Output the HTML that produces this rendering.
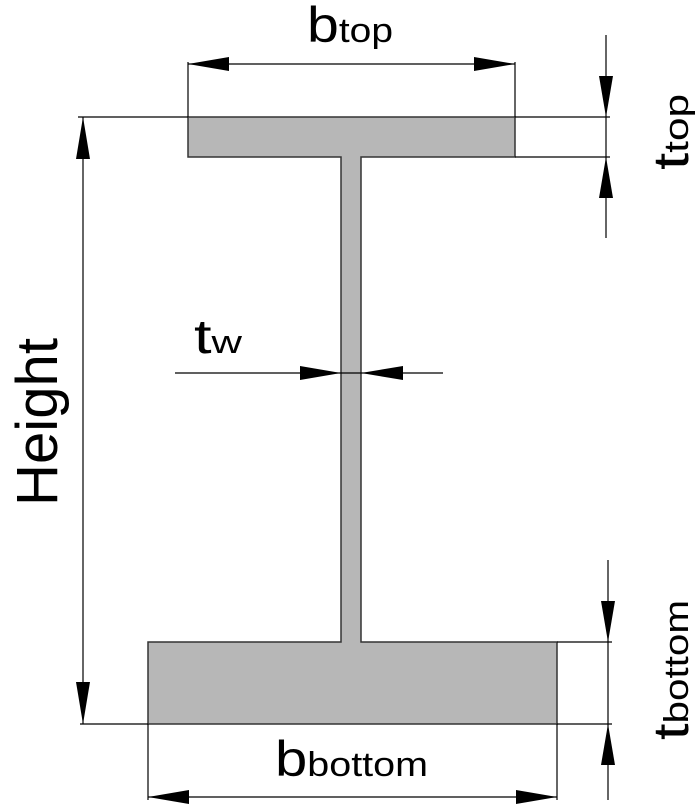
<!DOCTYPE html>
<html><head><meta charset="utf-8"><style>
html,body{margin:0;padding:0;background:#fff;}
svg{display:block;}
text{font-family:"Liberation Sans",sans-serif;fill:#000;}
</style></head><body>
<svg width="697" height="807" viewBox="0 0 697 807" xmlns="http://www.w3.org/2000/svg">
<path d="M188,117 H515 V157 H361 V642 H557 V724 H148 V642 H341 V157 H188 Z" fill="#b7b7b7" stroke="#333" stroke-width="1.5"/>
<g stroke="#000" stroke-width="1.2" fill="none">
<line x1="188" y1="64" x2="515" y2="64"/>
<line x1="188" y1="62" x2="188" y2="117"/>
<line x1="515" y1="62" x2="515" y2="117"/>
<line x1="78" y1="117" x2="188" y2="117"/>
<line x1="80" y1="724" x2="148" y2="724"/>
<line x1="83" y1="117" x2="83" y2="724"/>
<line x1="515" y1="117" x2="610" y2="117"/>
<line x1="515" y1="157" x2="610" y2="157"/>
<line x1="606" y1="35" x2="606" y2="238"/>
<line x1="557" y1="642" x2="612" y2="642"/>
<line x1="557" y1="724" x2="612" y2="724"/>
<line x1="608" y1="560" x2="608" y2="800"/>
<line x1="148" y1="724" x2="148" y2="800"/>
<line x1="557" y1="724" x2="557" y2="800"/>
<line x1="148" y1="797" x2="557" y2="797"/>
<line x1="175" y1="373" x2="443" y2="373"/>
</g>
<g fill="#000">
<polygon points="188,64 229,57 229,71"/>
<polygon points="515,64 474,57 474,71"/>
<polygon points="83,117 76,159 90,159"/>
<polygon points="83,724 76,682 90,682"/>
<polygon points="606,117 599,76 613,76"/>
<polygon points="606,157 599,198 613,198"/>
<polygon points="608,642 601,601 615,601"/>
<polygon points="608,724 601,765 615,765"/>
<polygon points="148,797 189,790 189,804"/>
<polygon points="557,797 516,790 516,804"/>
<polygon points="341,373 300,366 300,380"/>
<polygon points="361,373 403,366 403,380"/>
</g>
<text x="307" y="42" font-size="50" textLength="86" lengthAdjust="spacingAndGlyphs">b<tspan font-size="34">top</tspan></text>
<text x="275" y="776" font-size="50" textLength="153" lengthAdjust="spacingAndGlyphs">b<tspan font-size="34">bottom</tspan></text>
<text x="194" y="353" font-size="48" textLength="48" lengthAdjust="spacingAndGlyphs">t<tspan font-size="32">w</tspan></text>
<text transform="translate(57,506) rotate(-90)" font-size="58" textLength="168" lengthAdjust="spacingAndGlyphs">Height</text>
<text transform="translate(688,170) rotate(-90)" font-size="50" textLength="76" lengthAdjust="spacingAndGlyphs">t<tspan font-size="34">top</tspan></text>
<text transform="translate(688,740) rotate(-90)" font-size="50" textLength="140" lengthAdjust="spacingAndGlyphs">t<tspan font-size="34">bottom</tspan></text>
</svg>
</body></html>
